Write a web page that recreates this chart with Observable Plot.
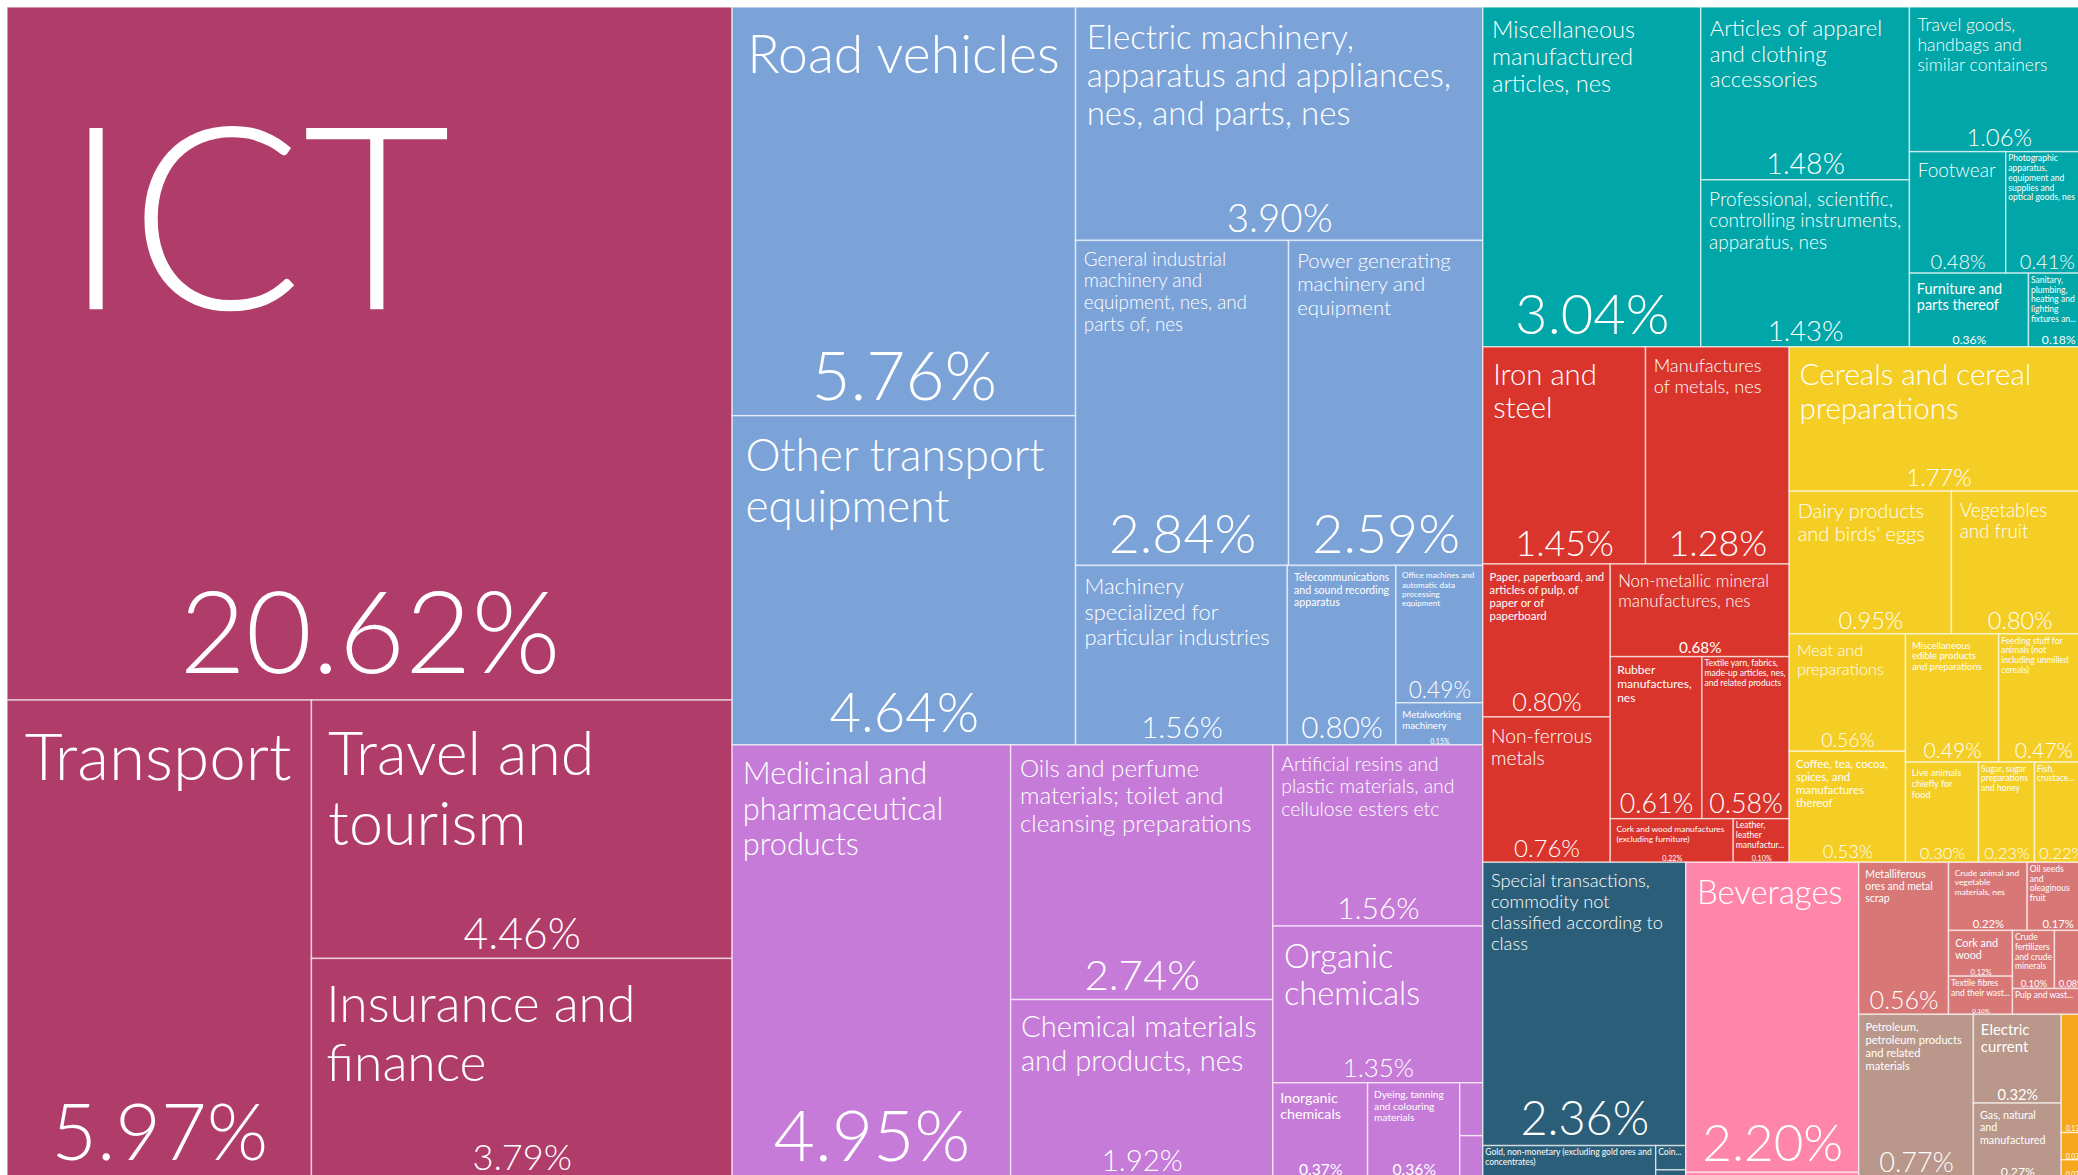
<!DOCTYPE html>
<html>
<head>
<meta charset="utf-8">
<script src="https://cdn.jsdelivr.net/npm/d3@7"></script>
<script src="https://cdn.jsdelivr.net/npm/@observablehq/plot@0.6"></script>
<style>
html, body { margin: 0; padding: 0; background: #fff; overflow: hidden; }
#chart svg { display: block; overflow: hidden; }
</style>
</head>
<body>
<div id="chart"></div>
<script>
// ---------------- DATA ----------------
const groupNames = [
  "Services",
  "Machinery and transport equipment",
  "Chemicals",
  "Miscellaneous manufactured articles",
  "Manufactured goods classified chiefly by material",
  "Food and live animals",
  "Commodities and transactions not classified elsewhere",
  "Beverages and tobacco",
  "Crude materials, inedible, except fuels",
  "Mineral fuels, lubricants and related materials",
  "Animal and vegetable oils, fats and waxes"
];
const groupColors = ["#b03c6a", "#7ba3d8", "#c57bd7", "#00a6a8", "#d9352c", "#f4ce24", "#2b5e78", "#ff85ab", "#d77877", "#b9978a", "#f7a71e"];

const servicesNames = ["ICT", "Transport", "Travel and tourism", "Insurance and finance"];
const servicesValues = [20.62, 5.97, 4.46, 3.79];

const machineryNames = [
  "Road vehicles",
  "Other transport equipment",
  "Electric machinery, apparatus and appliances, nes, and parts, nes",
  "General industrial machinery and equipment, nes, and parts of, nes",
  "Power generating machinery and equipment",
  "Machinery specialized for particular industries",
  "Telecommunications and sound recording apparatus",
  "Office machines and automatic data processing equipment",
  "Metalworking machinery"
];
const machineryValues = [5.76, 4.64, 3.90, 2.84, 2.59, 1.56, 0.80, 0.49, 0.15];

const chemicalsNames = [
  "Medicinal and pharmaceutical products",
  "Oils and perfume materials; toilet and cleansing preparations",
  "Chemical materials and products, nes",
  "Artificial resins and plastic materials, and cellulose esters etc",
  "Organic chemicals",
  "Inorganic chemicals",
  "Dyeing, tanning and colouring materials",
  "Fertilizers, manufactured",
  "Explosives and pyrotechnic products"
];
const chemicalsValues = [4.95, 2.74, 1.92, 1.56, 1.35, 0.37, 0.36, 0.05, 0.04];

const miscNames = [
  "Miscellaneous manufactured articles, nes",
  "Articles of apparel and clothing accessories",
  "Professional, scientific, controlling instruments, apparatus, nes",
  "Travel goods, handbags and similar containers",
  "Footwear",
  "Photographic apparatus, equipment and supplies and optical goods, nes",
  "Furniture and parts thereof",
  "Sanitary, plumbing, heating and lighting fixtures and fittings, nes"
];
const miscValues = [3.04, 1.48, 1.43, 1.06, 0.48, 0.41, 0.36, 0.18];

const materialNames = [
  "Iron and steel",
  "Manufactures of metals, nes",
  "Paper, paperboard, and articles of pulp, of paper or of paperboard",
  "Non-ferrous metals",
  "Non-metallic mineral manufactures, nes",
  "Rubber manufactures, nes",
  "Textile yarn, fabrics, made-up articles, nes, and related products",
  "Cork and wood manufactures (excluding furniture)",
  "Leather, leather manufactures, nes, and dressed furskins"
];
const materialValues = [1.45, 1.28, 0.80, 0.76, 0.68, 0.61, 0.58, 0.22, 0.10];

const foodNames = [
  "Cereals and cereal preparations",
  "Dairy products and birds' eggs",
  "Vegetables and fruit",
  "Meat and preparations",
  "Coffee, tea, cocoa, spices, and manufactures thereof",
  "Miscellaneous edible products and preparations",
  "Feeding stuff for animals (not including unmilled cereals)",
  "Live animals chiefly for food",
  "Sugar, sugar preparations and honey",
  "Fish, crustaceans and molluscs, and preparations thereof"
];
const foodValues = [1.77, 0.95, 0.80, 0.56, 0.53, 0.49, 0.47, 0.30, 0.23, 0.22];

const specialNames = [
  "Special transactions, commodity not classified according to class",
  "Gold, non-monetary (excluding gold ores and concentrates)",
  "Coin (other than gold coin), not being legal tender",
  "Postal packages not classified according to kind"
];
const specialValues = [2.36, 0.23, 0.03, 0.01];

const beveragesNames = ["Beverages", "Tobacco and tobacco manufactures"];
const beveragesValues = [2.20, 0.04];

const crudeNames = [
  "Metalliferous ores and metal scrap",
  "Crude animal and vegetable materials, nes",
  "Oil seeds and oleaginous fruit",
  "Cork and wood",
  "Textile fibres and their wastes",
  "Crude fertilizers and crude minerals",
  "Hides, skins and furskins, raw",
  "Pulp and waste paper"
];
const crudeValues = [0.56, 0.22, 0.17, 0.12, 0.10, 0.10, 0.08, 0.08];

const fuelsNames = [
  "Petroleum, petroleum products and related materials",
  "Electric current",
  "Gas, natural and manufactured"
];
const fuelsValues = [0.77, 0.32, 0.27];

const oilsNames = [
  "Fixed vegetable oils and fats",
  "Animal and vegetable oils and fats, processed",
  "Animal oils and fats"
];
const oilsValues = [0.13, 0.03, 0.02];

const groupItems = [
  [servicesNames, servicesValues],
  [machineryNames, machineryValues],
  [chemicalsNames, chemicalsValues],
  [miscNames, miscValues],
  [materialNames, materialValues],
  [foodNames, foodValues],
  [specialNames, specialValues],
  [beveragesNames, beveragesValues],
  [crudeNames, crudeValues],
  [fuelsNames, fuelsValues],
  [oilsNames, oilsValues]
];

// ---------------- LAYOUT ----------------
const W = 2078, H = 1175;
const X0 = 7, Y0 = 7, TW = 2081, TH = 1171;
const FONT = "Lato, 'Open Sans', sans-serif";

const tree = {
  name: "root",
  children: groupNames.map((g, gi) => ({
    name: g,
    children: groupItems[gi][0].map((n, i) => ({name: n, group: g, value: groupItems[gi][1][i]}))
  }))
};
const root = d3.hierarchy(tree)
  .sum(d => d.value || 0)
  .sort((a, b) => b.value - a.value);
d3.treemap().tile(d3.treemapSquarify.ratio(1)).size([TW, TH]).round(false)(root);

const leaves = root.leaves().map(d => ({
  name: d.data.name, group: d.data.group, value: d.data.value,
  x1: X0 + d.x0, x2: X0 + d.x1, y1: Y0 + d.y0, y2: Y0 + d.y1
}));

// ---------------- LABEL FITTING ----------------
const ctx = document.createElement("canvas").getContext("2d");
function tw(text, size, weight) {
  ctx.font = `${weight} ${size}px ${FONT}`;
  return ctx.measureText(text).width;
}
function wrap(text, size, weight, maxW) {
  const words = text.split(" ");
  const lines = []; let cur = "";
  for (const wd of words) {
    if (tw(wd, size, weight) > maxW) return null;
    const t = cur ? cur + " " + wd : wd;
    if (tw(t, size, weight) <= maxW) cur = t;
    else { lines.push(cur); cur = wd; }
  }
  if (cur) lines.push(cur);
  return lines;
}
function ellipsize(text, size, weight, maxW, maxLines) {
  const words = text.split(" ");
  const lines = []; let cur = "";
  for (let i = 0; i < words.length; i++) {
    const wd = words[i];
    const t = cur ? cur + " " + wd : wd;
    if (tw(t, size, weight) <= maxW) { cur = t; continue; }
    if (cur && lines.length < maxLines - 1) { lines.push(cur); cur = ""; i--; continue; }
    let s = t;
    while (s.length > 1 && tw(s + "...", size, weight) > maxW) s = s.slice(0, -1);
    if (s.trim().length < 2) return lines.length ? lines : null;
    lines.push(s.trimEnd() + "...");
    return lines;
  }
  if (cur) lines.push(cur);
  return lines;
}

const LH = 1.15;
function tryFit(name, F, wv, h, Fs) {
  const weight = F >= 16 ? 300 : 400;
  const padX = 0.2 * F + 4, padY = 0.45 * F + 3;
  const lines = wrap(name, F, weight, wv - 2 * padX);
  if (lines && padY + lines.length * F * LH + Fs * 1.3 <= h) return {lines, F, padX, padY, weight};
  return null;
}

const titles = [];
const shares = [];
for (const d of leaves) {
  const w = d.x2 - d.x1, h = d.y2 - d.y1;
  const wv = Math.min(d.x2, W) - d.x1;          // visible width
  const share = d.value.toFixed(2) + "%";
  const shareEm = tw(share, 100, 300) / 100;
  let Fs = Math.min(0.165 * h, (w - 8) / shareEm);
  const nameEm = tw(d.name, 100, 300) / 100;
  const areaT = wv * Math.min(h, 0.7 * wv);
  let F = Math.min(Math.sqrt(0.27 * areaT / nameEm) * Math.max(1, Math.pow(nameEm / 10, 0.08)), 0.38 * h);
  let title = null;
  while (F >= 8) {
    title = tryFit(d.name, F, wv, h, Fs);
    if (title) break;
    F *= 0.96;
  }
  // a short title kept on one line if that costs little size
  if (title && title.lines.length === 2) {
    for (let F2 = title.F * 0.98; F2 >= title.F * 0.85; F2 *= 0.98) {
      const t2 = tryFit(d.name, F2, wv, h, Fs);
      if (t2 && t2.lines.length === 1) { title = t2; break; }
    }
  }
  if (!title && wv >= 24 && h >= 24) {
    const Fe = 8.5, padX = 2, padY = 3;
    const maxLines = Math.floor((h - padY - Fs * 1.3) / (Fe * LH));
    if (maxLines >= 1) {
      const lines = ellipsize(d.name, Fe, 400, wv - 2 * padX, maxLines);
      if (lines) title = {lines, F: Fe, padX, padY, weight: 400};
    }
  }
  if (!title) Fs = Math.min(0.7 * h, (w - 8) / shareEm);
  if (title) {
    titles.push({
      text: title.lines.join("\n"), size: title.F, weight: title.weight,
      x: d.x1 + title.padX, y: d.y1 + title.padY - 0.1 * title.F
    });
  }
  if (Fs >= 6) {
    shares.push({
      text: share, size: Fs, weight: Fs >= 16 ? 300 : 400,
      x: (d.x1 + d.x2) / 2, y: d.y2 - 0.24 * Fs
    });
  }
}

// ---------------- PLOT ----------------
const chart = Plot.plot({
  width: W,
  height: H,
  margin: 0,
  x: {domain: [0, W], range: [0, W], axis: null},
  y: {domain: [0, H], range: [0, H], axis: null},
  color: {domain: groupNames, range: groupColors},
  style: {background: "#fff", overflow: "hidden"},
  marks: [
    Plot.rect(leaves, {
      x1: "x1", x2: "x2", y1: "y1", y2: "y2", fill: "group",
      stroke: "#ffffff", strokeOpacity: 0.6, strokeWidth: 1.5, clip: true
    }),
    Plot.text(titles.filter(d => d.weight === 300), {
      x: "x", y: "y", text: "text", fontSize: d => d.size, fill: "#fff",
      textAnchor: "start", lineAnchor: "top", lineHeight: LH,
      fontFamily: FONT, fontWeight: 300, clip: true
    }),
    Plot.text(titles.filter(d => d.weight === 400), {
      x: "x", y: "y", text: "text", fontSize: d => d.size, fill: "#fff",
      textAnchor: "start", lineAnchor: "top", lineHeight: LH,
      fontFamily: FONT, fontWeight: 400, clip: true
    }),
    Plot.text(shares.filter(d => d.weight === 300), {
      x: "x", y: "y", text: "text", fontSize: d => d.size, fill: "#fff",
      textAnchor: "middle", lineAnchor: "bottom",
      fontFamily: FONT, fontWeight: 300, clip: true
    }),
    Plot.text(shares.filter(d => d.weight === 400), {
      x: "x", y: "y", text: "text", fontSize: d => d.size, fill: "#fff",
      textAnchor: "middle", lineAnchor: "bottom",
      fontFamily: FONT, fontWeight: 400, clip: true
    })
  ]
});
document.getElementById("chart").appendChild(chart);
</script>
</body>
</html>
